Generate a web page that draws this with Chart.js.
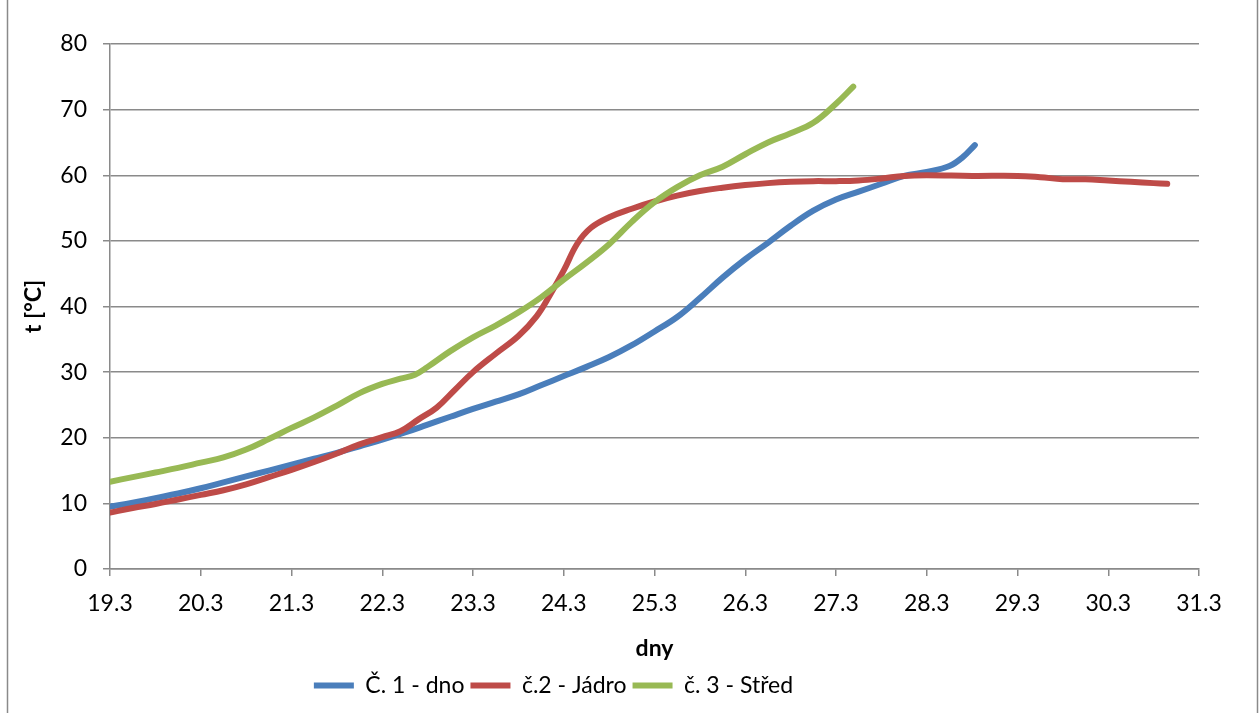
<!DOCTYPE html>
<html>
<head>
<meta charset="utf-8">
<script src="https://cdn.jsdelivr.net/npm/chart.js@4.4.1/dist/chart.umd.min.js"></script>
<style>
  html, body { margin: 0; padding: 0; background: #fff; }
  #wrap { position: relative; width: 1260px; height: 713px; }
</style>
</head>
<body>
<div id="wrap"><canvas id="chart"></canvas></div>
<script>
// days (19 = "19.3")
const xTicks = [19, 20, 21, 22, 23, 24, 25, 26, 27, 28, 29, 30, 31];
const seriesNames = ['Č. 1 - dno', 'č.2 - Jádro', 'č. 3 - Střed'];

const blueX = [19.0, 19.25, 19.5, 19.75, 20.0, 20.25, 20.5, 20.75, 21.0, 21.25, 21.5, 21.75, 22.0, 22.25, 22.5, 22.75, 23.0, 23.25, 23.5, 23.75, 24.0, 24.25, 24.5, 24.75, 25.0, 25.25, 25.5, 25.75, 26.0, 26.25, 26.5, 26.75, 27.0, 27.25, 27.5, 27.75, 28.0, 28.25, 28.4, 28.53];
const blueY = [9.5, 10.1, 10.8, 11.5, 12.3, 13.2, 14.1, 15.0, 15.9, 16.8, 17.7, 18.7, 19.7, 20.8, 22.0, 23.2, 24.4, 25.5, 26.6, 28.0, 29.4, 30.8, 32.3, 34.1, 36.2, 38.4, 41.3, 44.4, 47.2, 49.7, 52.3, 54.6, 56.3, 57.5, 58.7, 59.9, 60.5, 61.4, 62.8, 64.6];

const redX = [19.0, 19.25, 19.5, 19.75, 20.0, 20.25, 20.5, 20.75, 21.0, 21.25, 21.5, 21.75, 22.0, 22.2, 22.4, 22.6, 22.8, 23.0, 23.25, 23.5, 23.7, 23.85, 24.0, 24.15, 24.3, 24.5, 24.75, 25.0, 25.25, 25.5, 25.75, 26.0, 26.25, 26.5, 26.75, 27.0, 27.25, 27.5, 27.75, 28.0, 28.5, 29.0, 29.25, 29.5, 29.75, 30.0, 30.25, 30.5, 30.65];
const redY = [8.6, 9.3, 9.9, 10.6, 11.3, 12.0, 12.9, 14.0, 15.1, 16.3, 17.6, 19.0, 20.1, 21.0, 22.8, 24.6, 27.3, 30.0, 32.8, 35.5, 38.5, 41.8, 45.5, 49.6, 52.0, 53.6, 54.9, 56.0, 56.9, 57.6, 58.1, 58.5, 58.8, 59.0, 59.1, 59.1, 59.2, 59.5, 59.9, 60.0, 59.9, 59.9, 59.7, 59.4, 59.4, 59.2, 59.0, 58.8, 58.7];

const greenX = [19.0, 19.25, 19.5, 19.75, 20.0, 20.25, 20.5, 20.75, 21.0, 21.25, 21.5, 21.75, 22.0, 22.2, 22.36, 22.5, 22.75, 23.0, 23.25, 23.5, 23.75, 24.0, 24.25, 24.5, 24.75, 25.0, 25.25, 25.5, 25.75, 26.0, 26.25, 26.5, 26.75, 27.0, 27.19];
const greenY = [13.3, 14.0, 14.7, 15.4, 16.2, 17.0, 18.2, 19.8, 21.5, 23.1, 24.9, 26.8, 28.2, 29.0, 29.6, 30.8, 33.2, 35.3, 37.1, 39.1, 41.4, 44.1, 46.7, 49.5, 52.9, 55.9, 58.2, 60.0, 61.3, 63.2, 65.0, 66.4, 68.0, 70.9, 73.5];

const toPoints = (xs, ys) => xs.map((x, i) => ({ x: x, y: ys[i] }));

const FONT = 'Lato, "Open Sans", sans-serif';
const GRID = '#8a8a8a';

// frame like the excel chart border + legend offset
const framePlugin = {
  id: 'frame',
  afterLayout(chart) {
    chart.legend.left -= 46;
    chart.legend.right -= 46;
  },
  afterDraw(chart) {
    const c = chart.ctx;
    c.save();
    c.strokeStyle = GRID;
    c.lineWidth = 1.5;
    c.beginPath();
    c.moveTo(7.5, 0); c.lineTo(7.5, 713);
    c.moveTo(1257.5, 0); c.lineTo(1257.5, 713);
    c.stroke();
    c.restore();
  }
};

function lineSet(label, data, color, order) {
  return {
    label: label,
    data: data,
    borderColor: color,
    backgroundColor: color,
    borderWidth: 6,
    borderCapStyle: 'round',
    borderJoinStyle: 'round',
    pointRadius: 0,
    fill: false,
    tension: 0.4,
    order: order
  };
}

new Chart(document.getElementById('chart'), {
  type: 'line',
  data: {
    datasets: [
      lineSet(seriesNames[0], toPoints(blueX, blueY), '#4a7ebb', 3),
      lineSet(seriesNames[1], toPoints(redX, redY), '#be4b48', 2),
      lineSet(seriesNames[2], toPoints(greenX, greenY), '#98b954', 1)
    ]
  },
  options: {
    responsive: true,
    maintainAspectRatio: false,
    animation: false,
    layout: { padding: { left: 0, right: 61, top: 44, bottom: 6 } },
    plugins: {
      tooltip: { enabled: false },
      legend: {
        position: 'bottom',
        labels: {
          usePointStyle: true,
          pointStyle: 'line',
          pointStyleWidth: 40,
          padding: 6,
          color: '#000',
          font: { family: FONT, size: 23 },
          sort: (a, b) => a.datasetIndex - b.datasetIndex
        }
      }
    },
    scales: {
      x: {
        type: 'linear',
        min: 19,
        max: 31,
        afterBuildTicks: (scale) => { scale.ticks = xTicks.map(v => ({ value: v })); },
        afterFit: (scale) => { scale.height = 99; },
        ticks: {
          autoSkip: false,
          maxRotation: 0,
          padding: 14,
          color: '#000',
          font: { family: FONT, size: 23 },
          callback: (v) => v + '.3'
        },
        grid: { drawOnChartArea: false, drawTicks: true, tickLength: 7, color: GRID, lineWidth: 1.5 },
        border: { color: GRID, width: 1.5 },
        title: {
          display: true,
          text: 'dny',
          color: '#000',
          font: { family: FONT, size: 23, weight: 'bold' },
          padding: { top: 0, bottom: 6 }
        }
      },
      y: {
        min: 0,
        max: 80,
        afterFit: (scale) => { scale.width = 110; },
        ticks: {
          stepSize: 10,
          padding: 16,
          color: '#000',
          font: { family: FONT, size: 23 }
        },
        grid: { color: GRID, lineWidth: 1.5, tickLength: 7 },
        border: { color: GRID, width: 1.5 },
        title: {
          display: true,
          text: 't [°C]',
          color: '#000',
          font: { family: FONT, size: 23, weight: 'bold' },
          padding: { top: 20, bottom: 0 }
        }
      }
    }
  },
  plugins: [framePlugin]
});
</script>
</body>
</html>
